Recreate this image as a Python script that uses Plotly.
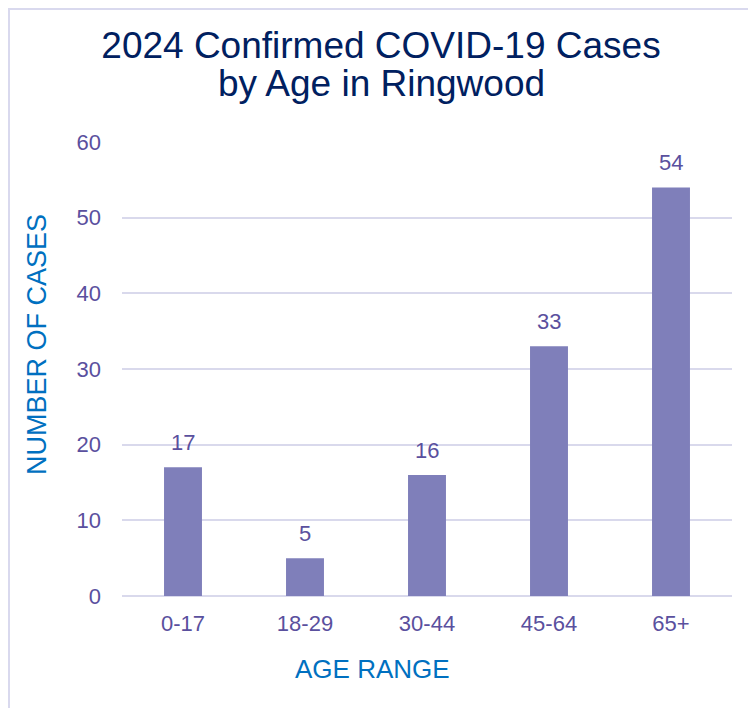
import plotly.graph_objects as go

categories = ["0-17", "18-29", "30-44", "45-64", "65+"]
cases = [17, 5, 16, 33, 54]
y_ticks = [0, 10, 20, 30, 40, 50, 60]

title_line1 = "2024 Confirmed COVID-19 Cases"
title_line2 = "by Age in Ringwood"
x_title = "AGE RANGE"
y_title = "NUMBER OF CASES"

FONT = "Liberation Sans, Arial, sans-serif"
BAR = "#7F7FBA"
TICK = "#5A509E"
AXT = "#0070C0"
TITLE = "#002060"
GRID = "#D9D9EC"

# page has an 8px body margin, so figure coords = reference coords - 8
L, R, T, B = 114, 724, 134, 588
W, H = 756, 708
PW, PH = R - L, B - T


def px(x):
    return (x - L) / PW


def py(y):
    return (B - y) / PH


fig = go.Figure()
fig.add_trace(go.Bar(x=categories, y=cases, marker=dict(color=BAR, line=dict(width=0)),
                     hoverinfo="x+y"))

for c, v in zip(categories, cases):
    fig.add_annotation(x=c, y=v, text=str(v), showarrow=False, yanchor="bottom",
                       yshift=10, font=dict(family=FONT, size=22, color=TICK))

fig.add_annotation(xref="paper", yref="paper", x=px(373), y=py(76),
                   text=title_line2, showarrow=False, xanchor="center", yanchor="middle",
                   font=dict(family=FONT, size=37, color=TITLE))

# axis titles (offset from plot centre as in the reference)
fig.add_annotation(xref="paper", yref="paper", x=px(364), y=py(661),
                   text=x_title, showarrow=False, xanchor="center", yanchor="middle",
                   font=dict(family=FONT, size=26, color=AXT))
fig.add_annotation(xref="paper", yref="paper", x=px(29), y=py(337),
                   text=y_title, showarrow=False, xanchor="center", yanchor="middle",
                   textangle=-90, font=dict(family=FONT, size=27, color=AXT))

# chart border (decorative frame)
fig.add_shape(type="rect", xref="paper", yref="paper",
              x0=px(1), x1=px(780), y0=py(740), y1=py(1),
              line=dict(color="#D9D9EE", width=2), fillcolor="rgba(0,0,0,0)", layer="below")

fig.update_layout(
    width=W, height=H,
    margin=dict(l=L, r=W - R, t=T, b=H - B),
    paper_bgcolor="white", plot_bgcolor="white",
    bargap=0.689,
    showlegend=False,
    font=dict(family=FONT, color=TICK),
    title=dict(text=title_line1, x=373 / W, xanchor="center", xref="container",
               y=1 - 37 / H, yanchor="middle", yref="container",
               font=dict(family=FONT, size=37, color=TITLE)),
    xaxis=dict(showgrid=False, showline=False, zeroline=False, ticks="",
               tickfont=dict(family=FONT, size=22, color=TICK), ticklabelstandoff=12),
    yaxis=dict(range=[0, 60], tickvals=y_ticks, showgrid=True, gridcolor=GRID, gridwidth=1.6,
               zeroline=True, zerolinecolor=GRID, zerolinewidth=1.6, showline=False, ticks="",
               tickfont=dict(family=FONT, size=22, color=TICK), ticklabelstandoff=20),
)

fig.write_html("out.html")
